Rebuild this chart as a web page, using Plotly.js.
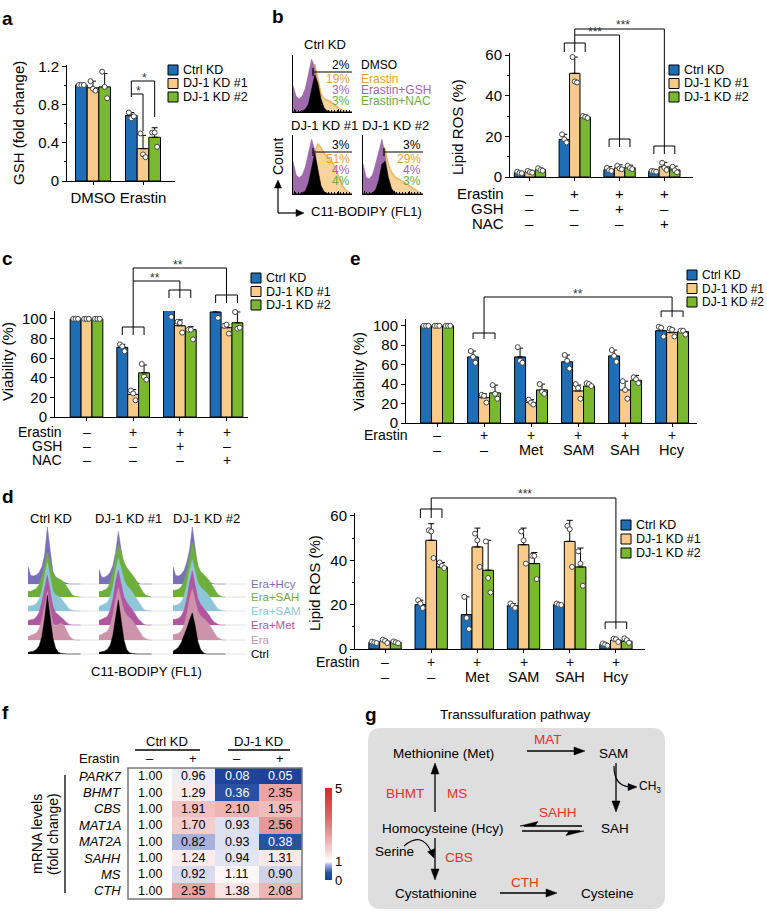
<!DOCTYPE html>
<html><head><meta charset="utf-8">
<script src="https://cdn.plot.ly/plotly-3.0.1.min.js"></script>
<style>html,body{margin:0;padding:0;background:#fff}</style>
</head><body>
<div id="chart" style="width:767px;height:912px"></div>
<script>
// ================= DATA =================
const seriesNames = ['Ctrl KD', 'DJ-1 KD #1', 'DJ-1 KD #2'];

// Panel a: GSH (fold change)
const aGroups = ['DMSO', 'Erastin'];
const aCtrl = [1.01, 0.69], aKD1 = [0.98, 0.34], aKD2 = [0.99, 0.46];
const aCtrlErr = [0.01, 0.03], aKD1Err = [0.07, 0.14], aKD2Err = [0.14, 0.10];
const aCtrlPts = [[1.01, 1.01, 1.01], [0.72, 0.66, 0.68]];
const aKD1Pts = [[1.05, 0.97, 0.95], [0.50, 0.28, 0.25]];
const aKD2Pts = [[1.15, 0.99, 0.87], [0.51, 0.51, 0.36]];

// Panel b: Lipid ROS (%)
const bCtrl = [2.2, 18.5, 3.6, 2.8], bKD1 = [2.5, 51, 4.5, 5.0], bKD2 = [3.6, 29.5, 4.6, 3.5];
const bCtrlErr = [0.4, 2.5, 1.5, 0.8], bKD1Err = [0.8, 8, 1.5, 2.2], bKD2Err = [0.8, 1, 1.2, 1.8];
const bCtrlPts = [[2.6, 2.0, 1.9], [21, 18.5, 17], [4.5, 3.3, 3.0], [3.0, 2.8, 2.6]];
const bKD1Pts = [[3.0, 2.4, 2.1], [59, 47, 46.5], [5.5, 4.2, 3.8], [7, 4.5, 3.5]];
const bKD2Pts = [[4.3, 3.4, 3.1], [30, 29.5, 29], [5.5, 4.4, 3.9], [5.0, 3.3, 2.3]];

// Panel c: Viability (%)
const cCtrl = [100, 71, 109, 107], cKD1 = [100, 23, 93, 91], cKD2 = [100, 45, 89, 96];
const cCtrlErr = [0, 3, 7, 4], cKD1Err = [0, 5, 6, 3], cKD2Err = [0, 8, 3, 11];
const cCtrlPts = [[100, 100, 100], [74, 72, 67], [116, 110, 102], [111, 110, 101]];
const cKD1Pts = [[100, 100, 100], [27, 24, 17], [97, 96, 86], [93, 94, 85]];
const cKD2Pts = [[100, 100, 100], [54, 41, 38], [89, 89, 79], [107, 90, 91]];

// treatment rows for b and c
const bcErastin = ['–', '+', '+', '+'];
const bcGSH = ['–', '–', '+', '–'];
const bcNAC = ['–', '–', '–', '+'];

// Panel e: Viability (%)
const eCtrl = [100, 68, 68, 63, 69, 95], eKD1 = [100, 26, 21, 33, 34, 93], eKD2 = [100, 31, 34, 38, 44, 94];
const eCtrlErr = [0, 6, 9, 7, 6, 4], eKD1Err = [0, 4, 3, 6, 9, 4], eKD2Err = [0, 8, 6, 3, 5, 1];
const eCtrlPts = [[100, 100, 100], [74, 68, 62], [78, 64, 62], [70, 64, 56], [75, 69, 63], [99, 98, 89]];
const eKD1Pts = [[100, 100, 100], [29, 28, 21], [24, 21, 19], [40, 36, 25], [43, 34, 25], [97, 96, 89]];
const eKD2Pts = [[100, 100, 100], [39, 30, 25], [40, 32, 30], [41, 40, 38], [47, 45, 41], [95, 95, 91]];

// Panel d (right): Lipid ROS (%)
const dCtrl = [3, 20, 15.5, 19.5, 20, 2], dKD1 = [3.5, 49, 46, 47, 48.5, 4], dKD2 = [3, 37, 35.5, 38.5, 37, 3.5];
const dCtrlErr = [0.4, 2, 8, 1, 0.5, 0.6], dKD1Err = [0.7, 7.5, 8.5, 7.5, 9.5, 0.8], dKD2Err = [0.4, 2, 13.5, 5, 8.5, 1];
const dCtrlPts = [[3.3, 3, 2.7], [22, 20.5, 18.5], [23.5, 14, 9], [20.5, 19.5, 18.5], [20.5, 20, 19.8], [2.5, 2, 1.5]];
const dKD1Pts = [[4.2, 3.6, 2.7], [53.5, 53, 41], [52, 49, 37], [53, 49, 38.5], [55.5, 54, 37], [4.6, 4.4, 3.2]];
const dKD2Pts = [[3.4, 3, 2.6], [39, 37.5, 36.5], [48.5, 32, 25.5], [42, 42, 31.5], [44, 38.5, 28.5], [4.8, 4, 2.8]];

// treatment rows for d and e
const deErastin = ['–', '+', '+', '+', '+', '+'];
const deAdd = ['–', '–', 'Met', 'SAM', 'SAH', 'Hcy'];

// Panel b flow histograms (relative counts per bin)
const flowConds = ['DMSO', 'Erastin', 'Erastin+GSH', 'Erastin+NAC'];
const flowCtrlDMSO = [0, 0, 0, 0.02, 0.05, 0.15, 0.4, 0.7, 0.55, 0.25, 0.08, 0.02, 0, 0, 0, 0, 0, 0, 0, 0];
const flowCtrlEra  = [0.05, 0.08, 0.1, 0.15, 0.25, 0.45, 0.8, 0.9, 0.6, 0.35, 0.25, 0.22, 0.2, 0.15, 0.1, 0.06, 0.03, 0.02, 0.01, 0];
const flowCtrlGSH  = [0.5, 0.3, 0.25, 0.3, 0.45, 0.7, 1.0, 0.85, 0.45, 0.15, 0.05, 0.02, 0.01, 0, 0, 0, 0, 0, 0, 0];
const flowCtrlNAC  = [0.3, 0.2, 0.2, 0.28, 0.42, 0.65, 0.95, 0.8, 0.42, 0.14, 0.05, 0.02, 0.01, 0, 0, 0, 0, 0, 0, 0];
const flowKD1DMSO = [0, 0, 0, 0.02, 0.06, 0.2, 0.5, 0.75, 0.45, 0.15, 0.04, 0.01, 0, 0, 0, 0, 0, 0, 0, 0];
const flowKD1Era  = [0.05, 0.06, 0.08, 0.12, 0.2, 0.32, 0.5, 0.75, 0.92, 0.85, 0.75, 0.68, 0.62, 0.55, 0.42, 0.28, 0.15, 0.07, 0.03, 0.01];
const flowKD1GSH  = [0.6, 0.35, 0.3, 0.35, 0.5, 0.75, 1.0, 0.8, 0.4, 0.12, 0.04, 0.01, 0, 0, 0, 0, 0, 0, 0, 0];
const flowKD1NAC  = [0.3, 0.25, 0.25, 0.3, 0.45, 0.7, 0.95, 0.78, 0.38, 0.12, 0.04, 0.01, 0, 0, 0, 0, 0, 0, 0, 0];
const flowKD2DMSO = [0, 0, 0, 0.02, 0.08, 0.25, 0.55, 0.6, 0.3, 0.1, 0.02, 0, 0, 0, 0, 0, 0, 0, 0, 0];
const flowKD2Era  = [0.05, 0.07, 0.1, 0.18, 0.35, 0.62, 0.9, 0.82, 0.55, 0.4, 0.32, 0.28, 0.25, 0.22, 0.18, 0.14, 0.1, 0.06, 0.02, 0];
const flowKD2GSH  = [0.55, 0.3, 0.28, 0.35, 0.55, 0.8, 1.0, 0.7, 0.3, 0.1, 0.03, 0.01, 0, 0, 0, 0, 0, 0, 0, 0];
const flowKD2NAC  = [0.3, 0.22, 0.25, 0.32, 0.5, 0.75, 0.95, 0.65, 0.28, 0.09, 0.03, 0.01, 0, 0, 0, 0, 0, 0, 0, 0];
const flowCtrlPct = ['2%', '19%', '3%', '3%'];
const flowKD1Pct = ['3%', '51%', '4%', '4%'];
const flowKD2Pct = ['3%', '29%', '4%', '3%'];

// Panel d (left) ridgeline histograms
const ridgeConds = ['Era+Hcy', 'Era+SAH', 'Era+SAM', 'Era+Met', 'Era', 'Ctrl'];
const ridgeCtrlKD = [
  [0.3, 0.15, 0.14, 0.16, 0.2, 0.3, 0.5, 1.0, 0.55, 0.22, 0.12, 0.08, 0.05, 0.03, 0.01, 0, 0, 0, 0, 0],
  [0.1, 0.1, 0.12, 0.15, 0.22, 0.35, 0.55, 0.78, 0.6, 0.4, 0.35, 0.33, 0.3, 0.26, 0.18, 0.1, 0.04, 0.01, 0, 0],
  [0.08, 0.09, 0.1, 0.13, 0.2, 0.35, 0.6, 0.85, 0.6, 0.35, 0.28, 0.26, 0.22, 0.16, 0.08, 0.03, 0.01, 0, 0, 0],
  [0.08, 0.09, 0.1, 0.14, 0.22, 0.4, 0.65, 0.88, 0.6, 0.33, 0.22, 0.18, 0.14, 0.09, 0.04, 0.01, 0, 0, 0, 0],
  [0.06, 0.08, 0.1, 0.12, 0.2, 0.35, 0.6, 0.85, 0.55, 0.3, 0.25, 0.27, 0.3, 0.26, 0.15, 0.07, 0.02, 0, 0, 0],
  [0.03, 0.04, 0.05, 0.08, 0.14, 0.3, 0.62, 1.03, 0.65, 0.28, 0.1, 0.03, 0.01, 0, 0, 0, 0, 0, 0, 0]
];
const ridgeKD1 = [
  [0.25, 0.12, 0.12, 0.15, 0.2, 0.32, 0.55, 0.92, 0.6, 0.3, 0.18, 0.12, 0.08, 0.05, 0.02, 0, 0, 0, 0, 0],
  [0.1, 0.1, 0.12, 0.15, 0.25, 0.42, 0.7, 0.92, 0.8, 0.62, 0.52, 0.46, 0.4, 0.33, 0.25, 0.16, 0.08, 0.03, 0.01, 0],
  [0.08, 0.1, 0.12, 0.15, 0.25, 0.42, 0.7, 0.93, 0.75, 0.55, 0.45, 0.4, 0.34, 0.26, 0.18, 0.1, 0.04, 0.01, 0, 0],
  [0.08, 0.1, 0.12, 0.15, 0.25, 0.45, 0.75, 0.96, 0.72, 0.5, 0.4, 0.34, 0.28, 0.2, 0.12, 0.06, 0.02, 0, 0, 0],
  [0.08, 0.1, 0.12, 0.15, 0.25, 0.42, 0.7, 0.92, 0.72, 0.52, 0.44, 0.4, 0.35, 0.28, 0.2, 0.12, 0.05, 0.02, 0, 0],
  [0.03, 0.04, 0.05, 0.08, 0.15, 0.32, 0.62, 0.95, 0.6, 0.25, 0.08, 0.02, 0.01, 0, 0, 0, 0, 0, 0, 0]
];
const ridgeKD2 = [
  [0.3, 0.15, 0.14, 0.17, 0.24, 0.38, 0.6, 1.0, 0.6, 0.28, 0.15, 0.1, 0.06, 0.03, 0.01, 0, 0, 0, 0, 0],
  [0.12, 0.12, 0.14, 0.18, 0.28, 0.45, 0.7, 0.95, 0.78, 0.55, 0.45, 0.4, 0.36, 0.3, 0.22, 0.13, 0.06, 0.02, 0, 0],
  [0.1, 0.1, 0.12, 0.16, 0.26, 0.45, 0.72, 0.9, 0.7, 0.5, 0.42, 0.38, 0.33, 0.27, 0.2, 0.12, 0.05, 0.02, 0, 0],
  [0.1, 0.1, 0.12, 0.16, 0.26, 0.45, 0.75, 0.95, 0.7, 0.46, 0.36, 0.3, 0.25, 0.18, 0.1, 0.05, 0.02, 0, 0, 0],
  [0.1, 0.1, 0.12, 0.16, 0.26, 0.45, 0.72, 0.9, 0.7, 0.5, 0.42, 0.38, 0.34, 0.28, 0.2, 0.12, 0.05, 0.02, 0, 0],
  [0.05, 0.08, 0.12, 0.2, 0.32, 0.45, 0.6, 0.72, 0.5, 0.22, 0.08, 0.02, 0, 0, 0, 0, 0, 0, 0, 0]
];
const ridgeColumns = ['Ctrl KD', 'DJ-1 KD #1', 'DJ-1 KD #2'];

// Panel f heatmap: mRNA levels (fold change)
const genes = ['PARK7', 'BHMT', 'CBS', 'MAT1A', 'MAT2A', 'SAHH', 'MS', 'CTH'];
const fErastin = ['–', '+', '–', '+'];
const fCtrlMinus = [1.00, 1.00, 1.00, 1.00, 1.00, 1.00, 1.00, 1.00];
const fCtrlPlus  = [0.96, 1.29, 1.91, 1.70, 0.82, 1.24, 0.92, 2.35];
const fDJMinus   = [0.08, 0.36, 2.10, 0.93, 0.93, 0.94, 1.11, 1.38];
const fDJPlus    = [0.05, 2.35, 1.95, 2.56, 0.38, 1.31, 0.90, 2.08];

// ================= DRAWING =================
const W = 767, H = 912;
const X = p => p / W, Y = p => 1 - p / H;
const FONT = '"Liberation Sans", Arial, Helvetica, sans-serif';
const COLORS = ['#1f6db5', '#f9cb8b', '#7ab82f'];
const BW = 0.7 / 3, JIT = [-0.05, 0, 0.05];
const data = [], shapes = [], ann = [];
const layout = {
  width: W, height: H, autosize: false, margin: {l: 0, r: 0, t: 0, b: 0},
  paper_bgcolor: '#fff', plot_bgcolor: 'rgba(0,0,0,0)', showlegend: false,
  barmode: 'group', bargap: 0.3, bargroupgap: 0,
  font: {family: FONT, color: '#000'}, shapes: shapes, annotations: ann
};
const sfx = n => (n === 1 ? '' : String(n));
const TICKF = {size: 14, color: '#000', family: FONT};

function setAxes(n, xpx, ypx, xr, yr, xo, yo) {
  layout['xaxis' + sfx(n)] = Object.assign({domain: [X(xpx[0]), X(xpx[1])], range: xr, anchor: 'y' + sfx(n),
    showgrid: false, zeroline: false, showline: true, linecolor: '#000', linewidth: 1, ticks: 'outside', ticklen: 3,
    tickcolor: '#000', showticklabels: false, fixedrange: true}, xo || {});
  layout['yaxis' + sfx(n)] = Object.assign({domain: [Y(ypx[1]), Y(ypx[0])], range: yr, anchor: 'x' + sfx(n),
    showgrid: false, zeroline: false, showline: true, linecolor: '#000', linewidth: 1, ticks: 'outside', ticklen: 4,
    tickcolor: '#000', tickfont: TICKF, fixedrange: true}, yo || {});
}
function txt(x, y, s, o) {
  o = o || {};
  ann.push({xref: 'paper', yref: 'paper', x: X(x), y: Y(y), text: s, showarrow: false,
    xanchor: o.xa || 'center', yanchor: o.ya || 'middle', textangle: o.angle || 0, borderpad: 0,
    font: {family: FONT, size: o.size || 13, color: o.color || '#000'}});
}
function axtxt(xref, xv, y, s, o) {
  o = o || {};
  ann.push({xref: xref, yref: 'paper', x: xv, y: Y(y), text: s, showarrow: false, borderpad: 0,
    xanchor: o.xa || 'center', yanchor: o.ya || 'middle',
    font: {family: FONT, size: o.size || 14, color: o.color || '#000'}});
}
function line(x0, y0, x1, y1, o) {
  o = o || {};
  const xr = o.xref || 'paper';
  shapes.push({type: 'line', xref: xr, yref: 'paper', x0: xr === 'paper' ? X(x0) : x0, x1: xr === 'paper' ? X(x1) : x1,
    y0: Y(y0), y1: Y(y1), line: {color: o.color || '#000', width: o.w || 1}, layer: o.layer || 'above'});
}
function pathPx(pts, close, o) {
  o = o || {};
  let s = '';
  pts.forEach((p, i) => {
    if (p.length === 4) s += ' Q' + X(p[0]) + ',' + Y(p[1]) + ' ' + X(p[2]) + ',' + Y(p[3]);
    else s += (i === 0 ? 'M' : ' L') + X(p[0]) + ',' + Y(p[1]);
  });
  if (close) s += ' Z';
  shapes.push({type: 'path', xref: 'paper', yref: 'paper', path: s, fillcolor: o.fill || 'rgba(0,0,0,0)',
    line: {color: o.color || '#000', width: o.w === undefined ? 1 : o.w}, layer: o.layer || 'above'});
}
function comb(xref, g, y, t) {
  line(g - BW, y, g + BW, y, {xref: xref});
  [g - BW, g, g + BW].forEach(xv => line(xv, y, xv, y + t, {xref: xref}));
}
function legendBox(x, y, dy, fs) {
  seriesNames.forEach((nm, k) => {
    shapes.push({type: 'rect', xref: 'paper', yref: 'paper', x0: X(x), x1: X(x + 10), y0: Y(y + k * dy + 5), y1: Y(y + k * dy - 5),
      fillcolor: COLORS[k], line: {color: '#000', width: 1}});
    txt(x + 14, y + k * dy, nm, {xa: 'left', size: fs || 12.5});
  });
}
function barPanel(n, nGroups, series, errs, pts) {
  const xa = 'x' + sfx(n), ya = 'y' + sfx(n);
  const gi = Array.from({length: nGroups}, (_, i) => i);
  series.forEach((vals, k) => {
    data.push({type: 'bar', x: gi, y: vals, xaxis: xa, yaxis: ya, offsetgroup: String(k), cliponaxis: false,
      marker: {color: COLORS[k], line: {color: '#000', width: 1}},
      error_y: {type: 'data', symmetric: false, array: errs[k], arrayminus: errs[k].map(() => 0), color: '#000', thickness: 1, width: 3},
      hoverinfo: 'skip'});
  });
  series.forEach((vals, k) => {
    const px = [], py = [];
    pts[k].forEach((arr, g) => arr.forEach((v, j) => { px.push(g + (k - 1) * BW + JIT[j]); py.push(v); }));
    data.push({type: 'scatter', mode: 'markers', x: px, y: py, xaxis: xa, yaxis: ya, cliponaxis: false,
      marker: {size: 5, color: '#fff', line: {color: '#444', width: 1}}, hoverinfo: 'skip'});
  });
}
function stars(xref, xv, y, s) { axtxt(xref, xv, y, s, {size: 12, color: '#333'}); }

// ---------- Panel letters ----------
[['a', 1, 18], ['b', 271, 17], ['c', 1, 258], ['e', 349, 258], ['d', 1, 497], ['f', 1, 712], ['g', 364, 714]]
  .forEach(p => txt(p[1], p[2], '<b>' + p[0] + '</b>', {xa: 'left', size: 19}));

// ---------- Panel a ----------
setAxes(1, [67, 175], [65, 181], [-0.52, 1.64], [0, 1.22],
  {tickvals: [0, 1], ticktext: aGroups, showticklabels: true, tickfont: {size: 15, color: '#000', family: FONT}},
  {dtick: 0.4, tick0: 0, tickfont: {size: 15, color: '#000', family: FONT}, minor: {dtick: 0.2, ticklen: 2, ticks: 'outside', tickcolor: '#000'}});
barPanel(1, 2, [aCtrl, aKD1, aKD2], [aCtrlErr, aKD1Err, aKD2Err], [aCtrlPts, aKD1Pts, aKD2Pts]);
txt(18, 123, 'GSH (fold change)', {angle: -90, size: 15});
legendBox(168, 70, 13.5);
line(1 - BW, 97, 1 - BW, 81, {xref: 'x'});
line(1 - BW, 81, 1 + BW, 81, {xref: 'x'});
line(1 + BW, 81, 1 + BW, 117, {xref: 'x'});
line(1 - BW, 94, 1, 94, {xref: 'x'});
line(1, 94, 1, 131, {xref: 'x'});
stars('x', 1.02, 78, '*');
stars('x', 0.9, 91, '*');

// ---------- Panel b ----------
setAxes(2, [510, 693], [53, 177], [-0.446, 3.64], [0, 61], {tickvals: [0, 1, 2, 3]},
  {dtick: 20, tickfont: {size: 15, color: '#000', family: FONT}, minor: {dtick: 10, ticklen: 2, ticks: 'outside', tickcolor: '#000'}});
barPanel(2, 4, [bCtrl, bKD1, bKD2], [bCtrlErr, bKD1Err, bKD2Err], [bCtrlPts, bKD1Pts, bKD2Pts]);
txt(458, 127, 'Lipid ROS (%)', {angle: -90, size: 15});
legendBox(669, 70, 13.5);
comb('x2', 1, 43, 9);
line(1, 43, 1, 29, {xref: 'x2'});
line(1, 29, 3, 29, {xref: 'x2'});
line(3, 29, 3, 146, {xref: 'x2'});
line(1, 35, 2, 35, {xref: 'x2'});
line(2, 35, 2, 139, {xref: 'x2'});
comb('x2', 2, 139, 8);
comb('x2', 3, 146, 8);
stars('x2', 2.08, 25, '***');
stars('x2', 1.45, 32, '***');
[['Erastin', bcErastin, 193], ['GSH', bcGSH, 209], ['NAC', bcNAC, 223]].forEach(r => {
  txt(505, r[2], r[0], {xa: 'right', size: 15});
  r[1].forEach((s, g) => axtxt('x2', g, r[2], s, {size: 15}));
});

// ---------- Panel b: flow histograms ----------
const flowBins = flowCtrlDMSO.map((_, i) => i / (flowCtrlDMSO.length - 1));
const flowColors = ['#000000', '#f2b55c', '#9c63aa', '#6fae3a'];
const flowTextColors = ['#000000', '#ef9d2e', '#a565ad', '#68ad38'];
const flowFill = ['#000000', 'rgba(246,196,120,0.75)', '#a06aae', '#78b545'];
const flowBoxes = [
  {n: 6, xpx: [293, 352], ypx: [55, 112], title: 'Ctrl KD', prof: [flowCtrlDMSO, flowCtrlEra, flowCtrlGSH, flowCtrlNAC], pct: flowCtrlPct, gate: 313},
  {n: 7, xpx: [293, 352], ypx: [135, 194], title: 'DJ-1 KD #1', prof: [flowKD1DMSO, flowKD1Era, flowKD1GSH, flowKD1NAC], pct: flowKD1Pct, gate: 313},
  {n: 8, xpx: [363, 423], ypx: [135, 194], title: 'DJ-1 KD #2', prof: [flowKD2DMSO, flowKD2Era, flowKD2GSH, flowKD2NAC], pct: flowKD2Pct, gate: 384}
];
flowBoxes.forEach(b => {
  setAxes(b.n, b.xpx, b.ypx, [0, 1], [0, 1.08],
    {ticks: 'inside', ticklen: 3, dtick: 0.25, tick0: 0.02, minor: {dtick: 0.05, ticklen: 2, ticks: 'inside', tickcolor: '#000'}},
    {ticks: '', showticklabels: false});
  [1, 3, 2, 0].forEach(ci => {
    data.push({type: 'scatter', mode: 'lines', x: flowBins, y: b.prof[ci], xaxis: 'x' + b.n, yaxis: 'y' + b.n,
      fill: 'tozeroy', fillcolor: flowFill[ci], line: {color: flowColors[ci], width: ci === 1 ? 1.5 : 0.6}, hoverinfo: 'skip'});
  });
  const yTop = b.ypx[0];
  txt((b.xpx[0] + b.xpx[1]) / 2 + 2, yTop - 10, b.title, {size: 13});
  const gy = yTop + 17;
  line(b.gate, gy, b.xpx[1], gy, {w: 1.2});
  line(b.gate, gy - 4, b.gate, gy + 4, {w: 1.2});
  const rows = [gy - 7, gy + 7, gy + 18, gy + 29];
  b.pct.forEach((p, i) => txt(b.xpx[1] - 1, rows[i], p, {xa: 'right', size: 12, color: flowTextColors[i]}));
  if (b.n === 6) flowConds.forEach((c, i) => txt(360, rows[i], c, {xa: 'left', size: 12, color: flowTextColors[i]}));
});
txt(278, 157, 'Count', {angle: -90, size: 14});
line(278, 213, 278, 186, {w: 1.2});
line(278, 213, 298, 213, {w: 1.2});
pathPx([[278, 180], [274.5, 188], [281.5, 188]], true, {fill: '#000', w: 0.5});
pathPx([[304, 213], [296, 209.5], [296, 216.5]], true, {fill: '#000', w: 0.5});
txt(310, 211, 'C11-BODIPY (FL1)', {xa: 'left', size: 13});

// ---------- Panel c ----------
setAxes(3, [55, 248], [311, 417], [-0.675, 3.46], [0, 108], {tickvals: [0, 1, 2, 3]},
  {dtick: 20, tickfont: {size: 15, color: '#000', family: FONT}});
barPanel(3, 4, [cCtrl, cKD1, cKD2], [cCtrlErr, cKD1Err, cKD2Err], [cCtrlPts, cKD1Pts, cKD2Pts]);
txt(8, 362, 'Viability (%)', {angle: -90, size: 15});
legendBox(251, 278, 13.5);
comb('x3', 1, 327, 8);
line(1, 327, 1, 268, {xref: 'x3'});
line(1, 268, 3, 268, {xref: 'x3'});
line(3, 268, 3, 295, {xref: 'x3'});
line(1, 281, 2, 281, {xref: 'x3'});
line(2, 281, 2, 290, {xref: 'x3'});
comb('x3', 2, 290, 8);
comb('x3', 3, 295, 8);
stars('x3', 1.96, 265, '**');
stars('x3', 1.47, 278, '**');
[['Erastin', bcErastin, 432], ['GSH', bcGSH, 446], ['NAC', bcNAC, 460]].forEach(r => {
  txt(63, r[2], r[0], {xa: 'right', size: 14});
  r[1].forEach((s, g) => axtxt('x3', g, r[2], s, {size: 14}));
});

// ---------- Panel e ----------
setAxes(4, [406, 697], [319, 423], [-0.66, 5.53], [0, 107], {tickvals: [0, 1, 2, 3, 4, 5]},
  {dtick: 20, tickfont: {size: 15, color: '#000', family: FONT}});
barPanel(4, 6, [eCtrl, eKD1, eKD2], [eCtrlErr, eKD1Err, eKD2Err], [eCtrlPts, eKD1Pts, eKD2Pts]);
txt(358, 372, 'Viability (%)', {angle: -90, size: 15});
legendBox(687, 275, 13.5, 12);
comb('x4', 1, 333, 6);
line(1, 333, 1, 297, {xref: 'x4'});
line(1, 297, 5, 297, {xref: 'x4'});
line(5, 297, 5, 311, {xref: 'x4'});
comb('x4', 5, 311, 6);
stars('x4', 3.0, 294, '**');
txt(409, 435, 'Erastin', {xa: 'right', size: 14});
deErastin.forEach((s, g) => axtxt('x4', g, 435, s, {size: 14}));
deAdd.forEach((s, g) => axtxt('x4', g, 450, s, {size: 14.5}));

// ---------- Panel d (bars) ----------
setAxes(5, [355, 645], [513, 649], [-0.65, 5.63], [0, 61.3], {tickvals: [0, 1, 2, 3, 4, 5]},
  {dtick: 20, tickfont: {size: 15, color: '#000', family: FONT}, minor: {dtick: 10, ticklen: 2, ticks: 'outside', tickcolor: '#000'}});
barPanel(5, 6, [dCtrl, dKD1, dKD2], [dCtrlErr, dKD1Err, dKD2Err], [dCtrlPts, dKD1Pts, dKD2Pts]);
txt(314, 583, 'Lipid ROS (%)', {angle: -90, size: 15});
legendBox(621, 525, 14);
comb('x5', 1, 509, 9);
line(1, 509, 1, 498, {xref: 'x5'});
line(1, 498, 5, 498, {xref: 'x5'});
line(5, 498, 5, 622, {xref: 'x5'});
comb('x5', 5, 622, 7);
stars('x5', 3.03, 494, '***');
txt(361, 662, 'Erastin', {xa: 'right', size: 14});
deErastin.forEach((s, g) => axtxt('x5', g, 662, s, {size: 14}));
deAdd.forEach((s, g) => axtxt('x5', g, 677, s, {size: 14.5}));

// ---------- Panel d (ridgelines) ----------
const ridgeColors = ['#7a70b8', '#6eae3c', '#8cc6d8', '#b0579f', '#cc93aa', '#000000'];
const ridgeBase = [76, 63, 49, 35, 20, 6];    // baseline offsets (px above the bottom of the ridge area)
const ridgeScale = 57;
const ridgeBins = ridgeCtrlKD[0].map((_, i) => i / (ridgeCtrlKD[0].length - 1) * 0.75);
const ridgeCols = [{xa: 9, xpx: [28, 98], prof: ridgeCtrlKD}, {xa: 10, xpx: [99, 169], prof: ridgeKD1}, {xa: 11, xpx: [173, 243], prof: ridgeKD2}];
ridgeCols.forEach(c => {
  layout['xaxis' + c.xa] = {domain: [X(c.xpx[0]), X(c.xpx[1])], range: [0, 1], anchor: 'y9', visible: false, fixedrange: true};
  c.prof.forEach((p, r) => {
    const xs = [0].concat(ridgeBins, [ridgeBins[ridgeBins.length - 1]]);
    const ys = [ridgeBase[r]].concat(p.map(v => ridgeBase[r] + v * ridgeScale), [ridgeBase[r]]);
    data.push({type: 'scatter', mode: 'lines', x: xs, y: ys, xaxis: 'x' + c.xa, yaxis: 'y9', fill: 'toself',
      fillcolor: ridgeColors[r], line: {color: ridgeColors[r], width: 0.5}, hoverinfo: 'skip'});
  });
});
layout.yaxis9 = {domain: [Y(660), Y(520)], range: [0, 140], anchor: 'x9', visible: false, fixedrange: true};
ridgeBase.forEach(b => line(28, 660 - b, 246, 660 - b, {color: '#e2e2e2', w: 1, layer: 'below'}));
ridgeColumns.forEach((t, i) => txt([51, 128, 207][i], 518, t, {size: 13}));
ridgeConds.forEach((t, r) => txt(250, 660 - ridgeBase[r], t, {xa: 'left', size: 11.5, color: ridgeColors[r]}));
txt(146, 671, 'C11-BODIPY (FL1)', {size: 13});

// ---------- Panel f heatmap ----------
const zRows = genes.map((g, i) => [fCtrlMinus[i], fCtrlPlus[i], fDJMinus[i], fDJPlus[i]]);
layout.xaxis12 = {domain: [X(128), X(302)], range: [-0.5, 3.5], anchor: 'y12', visible: false, fixedrange: true};
layout.yaxis12 = {domain: [Y(899), Y(768)], range: [7.5, -0.5], anchor: 'x12', visible: false, fixedrange: true};
data.push({type: 'heatmap', z: zRows, x: [0, 1, 2, 3], y: genes.map((_, i) => i), xaxis: 'x12', yaxis: 'y12',
  zmin: 0, zmax: 5, hoverinfo: 'skip',
  colorscale: [[0, '#1c3f98'], [0.08, '#2a52a5'], [0.165, '#aab2da'], [0.2, '#ffffff'], [0.3, '#f7dada'], [0.5, '#e89a9a'], [0.7, '#de6262'], [1, '#d42a2a']],
  colorbar: {x: X(325), xanchor: 'left', y: Y(834), yanchor: 'middle', len: 92 / H, lenmode: 'fraction', thickness: 7,
    outlinewidth: 0, xpad: 0, ypad: 0, tickvals: [0, 1, 5], ticks: '', tickfont: {size: 13, family: FONT, color: '#000'}}});
zRows.forEach((row, i) => row.forEach((v, j) => {
  ann.push({xref: 'x12', yref: 'y12', x: j, y: i, text: v.toFixed(2), showarrow: false, borderpad: 0,
    font: {family: FONT, size: 12.5, color: v < 0.5 ? '#fff' : '#000'}});
}));
shapes.push({type: 'rect', xref: 'paper', yref: 'paper', x0: X(128), x1: X(302), y0: Y(899), y1: Y(768), line: {color: '#777', width: 1.5}});
genes.forEach((g, i) => txt(122, 768 + (i + 0.5) * 131 / 8, '<i>' + g + '</i>', {xa: 'right', size: 13}));
txt(120, 758, 'Erastin', {xa: 'right', size: 13});
fErastin.forEach((s, j) => txt(128 + (j + 0.5) * 43.5, 758, s, {size: 13}));
txt(167, 741, 'Ctrl KD', {size: 13});
txt(258, 741, 'DJ-1 KD', {size: 13});
line(135, 750, 200, 750, {w: 1.3});
line(228, 750, 290, 750, {w: 1.3});
line(65, 775, 65, 893, {w: 1.3});
txt(37, 834, 'mRNA levels', {angle: -90, size: 14});
txt(53, 834, '(fold change)', {angle: -90, size: 14});

// ---------- Panel g pathway ----------
(function () {
  const x0 = 368, x1 = 665, y0 = 728, y1 = 909, r = 13;
  pathPx([[x0 + r, y0], [x1 - r, y0], [x1, y0, x1, y0 + r], [x1, y1 - r], [x1, y1, x1 - r, y1], [x0 + r, y1],
    [x0, y1, x0, y1 - r], [x0, y0 + r], [x0, y0, x0 + r, y0]], true, {fill: '#dedede', w: 0, layer: 'below'});
})();
const RED = '#e2332a';
txt(515, 714, 'Transsulfuration pathway', {size: 13.5});
txt(443, 753, 'Methionine (Met)', {size: 13.5});
txt(613, 753, 'SAM', {size: 13.5});
txt(505, 828, 'Homocysteine (Hcy)', {xa: 'right', size: 13.5});
txt(615, 828, 'SAH', {size: 13.5});
txt(415, 851, 'Serine', {xa: 'right', size: 13.5});
txt(436, 893, 'Cystathionine', {size: 13.5});
txt(607, 893, 'Cysteine', {size: 13.5});
txt(638, 787, 'CH<sub>3</sub>', {xa: 'left', size: 12});
txt(548, 739, 'MAT', {size: 13.5, color: RED});
txt(405, 793, 'BHMT', {size: 13.5, color: RED});
txt(457, 793, 'MS', {size: 13.5, color: RED});
txt(558, 812, 'SAHH', {size: 13.5, color: RED});
txt(459, 857, 'CBS', {size: 13.5, color: RED});
txt(525, 882, 'CTH', {size: 13.5, color: RED});
function arrowPx(xa, ya, xb, yb) {
  // straight line with a filled triangular head at (xb, yb)
  const dx = xb - xa, dy = yb - ya, L = Math.hypot(dx, dy), ux = dx / L, uy = dy / L;
  const hl = 11, hw = 4;
  const bx = xb - ux * hl, by = yb - uy * hl;
  line(xa, ya, bx, by, {w: 1.3});
  pathPx([[xb, yb], [bx - uy * hw, by + ux * hw], [bx + uy * hw, by - ux * hw]], true, {fill: '#000', w: 0.5});
}
arrowPx(527, 751, 585, 751);   // MAT
arrowPx(435, 812, 435, 763);   // MS/BHMT up
arrowPx(616, 763, 616, 812);   // SAM -> SAH
arrowPx(435, 838, 435, 880);   // CBS down
arrowPx(500, 893, 557, 893);   // CTH
// SAHH equilibrium half arrows
line(524, 826, 582, 826, {w: 1.3});
pathPx([[520, 826], [538, 821.5], [535, 826]], true, {fill: '#000', w: 0.5});
line(522, 831, 580, 831, {w: 1.3});
pathPx([[584, 831], [566, 835.5], [569, 831]], true, {fill: '#000', w: 0.5});
// CH3 curved arrow
pathPx([[614, 766], [614, 786, 630, 787]], false, {w: 1.2});
pathPx([[637, 787], [628, 783.5], [628, 790.5]], true, {fill: '#000', w: 0.5});
// Serine curved arrow
pathPx([[404, 846], [421, 831, 431, 851]], false, {w: 1.2});
pathPx([[434, 858], [427.6, 851.8], [434.8, 848.6]], true, {fill: '#000', w: 0.5});

Plotly.newPlot('chart', data, layout, {staticPlot: true, displayModeBar: false});
</script>
</body></html>
